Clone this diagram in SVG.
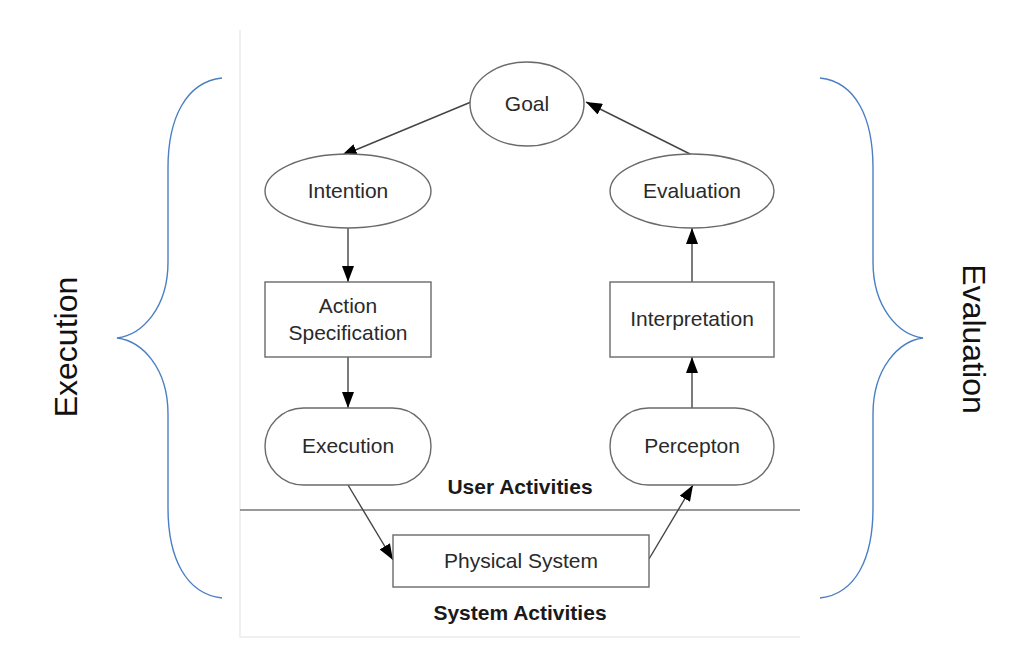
<svg xmlns="http://www.w3.org/2000/svg" width="1032" height="656" viewBox="0 0 1032 656">
<style>
.node{fill:#fff;stroke:#6a6a6a;stroke-width:1.4}
.lbl{font-family:"Liberation Sans",Arial,sans-serif;font-size:21px;fill:#2a2a2a;text-anchor:middle}
.bold{font-family:"Liberation Sans",Arial,sans-serif;font-size:21px;font-weight:bold;fill:#1a1a1a;text-anchor:middle}
.side{font-family:"Liberation Sans",Arial,sans-serif;font-size:32px;fill:#111;text-anchor:middle}
.conn{stroke:#444;stroke-width:1.4;fill:none;marker-end:url(#ah)}
.brace{stroke:#4a7fc4;stroke-width:1.4;fill:none}
</style>
<defs>
<marker id="ah" viewBox="0 0 16 12" refX="16" refY="6" markerWidth="16" markerHeight="12" markerUnits="userSpaceOnUse" orient="auto">
<path d="M0,0 L16,6 L0,12 z" fill="#000"/>
</marker>
</defs>
<rect width="1032" height="656" fill="#fff"/>
<path d="M240,30 L240,637 L800,637" stroke="#ececec" stroke-width="1.5" fill="none"/>
<line x1="240" y1="510" x2="800" y2="510" stroke="#777" stroke-width="1.6"/>

<g id="brace-left"><path class="brace" d="M222,78 C186,82 168,118 168,168 L168,262 C168,308 142,335 117,338 C142,341 168,368 168,414 L168,508 C168,558 186,594 222,598"/></g>
<g id="brace-right"><path class="brace" d="M820,78 C856,82 873,118 873,168 L873,262 C873,308 899,335 923,338 C899,341 873,368 873,414 L873,508 C873,558 856,594 820,598"/></g>
<text class="side" transform="translate(77,347) rotate(-90)">Execution</text>
<text class="side" transform="translate(963,339) rotate(90)">Evaluation</text>

<g id="connectors">
<line class="conn" x1="471" y1="102" x2="341" y2="156"/>
<line class="conn" x1="692" y1="155" x2="586" y2="102"/>
<line class="conn" x1="348" y1="228" x2="348" y2="282"/>
<line class="conn" x1="348" y1="357" x2="348" y2="408"/>
<line class="conn" x1="692" y1="282" x2="692" y2="228"/>
<line class="conn" x1="692" y1="408" x2="692" y2="357"/>
<line class="conn" x1="348" y1="485" x2="393" y2="560"/>
<line class="conn" x1="649" y1="559" x2="693" y2="485"/>
</g>

<g id="goal"><ellipse class="node" cx="527" cy="104" rx="57" ry="42"/><text class="lbl" x="527" y="111">Goal</text></g>
<g id="intention"><ellipse class="node" cx="348" cy="191" rx="83" ry="37"/><text class="lbl" x="348" y="198">Intention</text></g>
<g id="evaluation"><ellipse class="node" cx="692" cy="191" rx="82" ry="37"/><text class="lbl" x="692" y="198">Evaluation</text></g>
<g id="action-spec"><rect class="node" x="265" y="282" width="166" height="75"/><text class="lbl" x="348" y="313">Action</text><text class="lbl" x="348" y="340">Specification</text></g>
<g id="interpretation"><rect class="node" x="610" y="282" width="164" height="75"/><text class="lbl" x="692" y="326">Interpretation</text></g>
<g id="execution"><rect class="node" x="265" y="408" width="166" height="77" rx="38.5" ry="38.5"/><text class="lbl" x="348" y="453">Execution</text></g>
<g id="percepton"><rect class="node" x="610" y="408" width="164" height="77" rx="38.5" ry="38.5"/><text class="lbl" x="692" y="453">Percepton</text></g>
<g id="physical-system"><rect class="node" x="393" y="535" width="256" height="52"/><text class="lbl" x="521" y="568">Physical System</text></g>
<text class="bold" x="520" y="494">User Activities</text>
<text class="bold" x="520" y="620">System Activities</text>
</svg>
